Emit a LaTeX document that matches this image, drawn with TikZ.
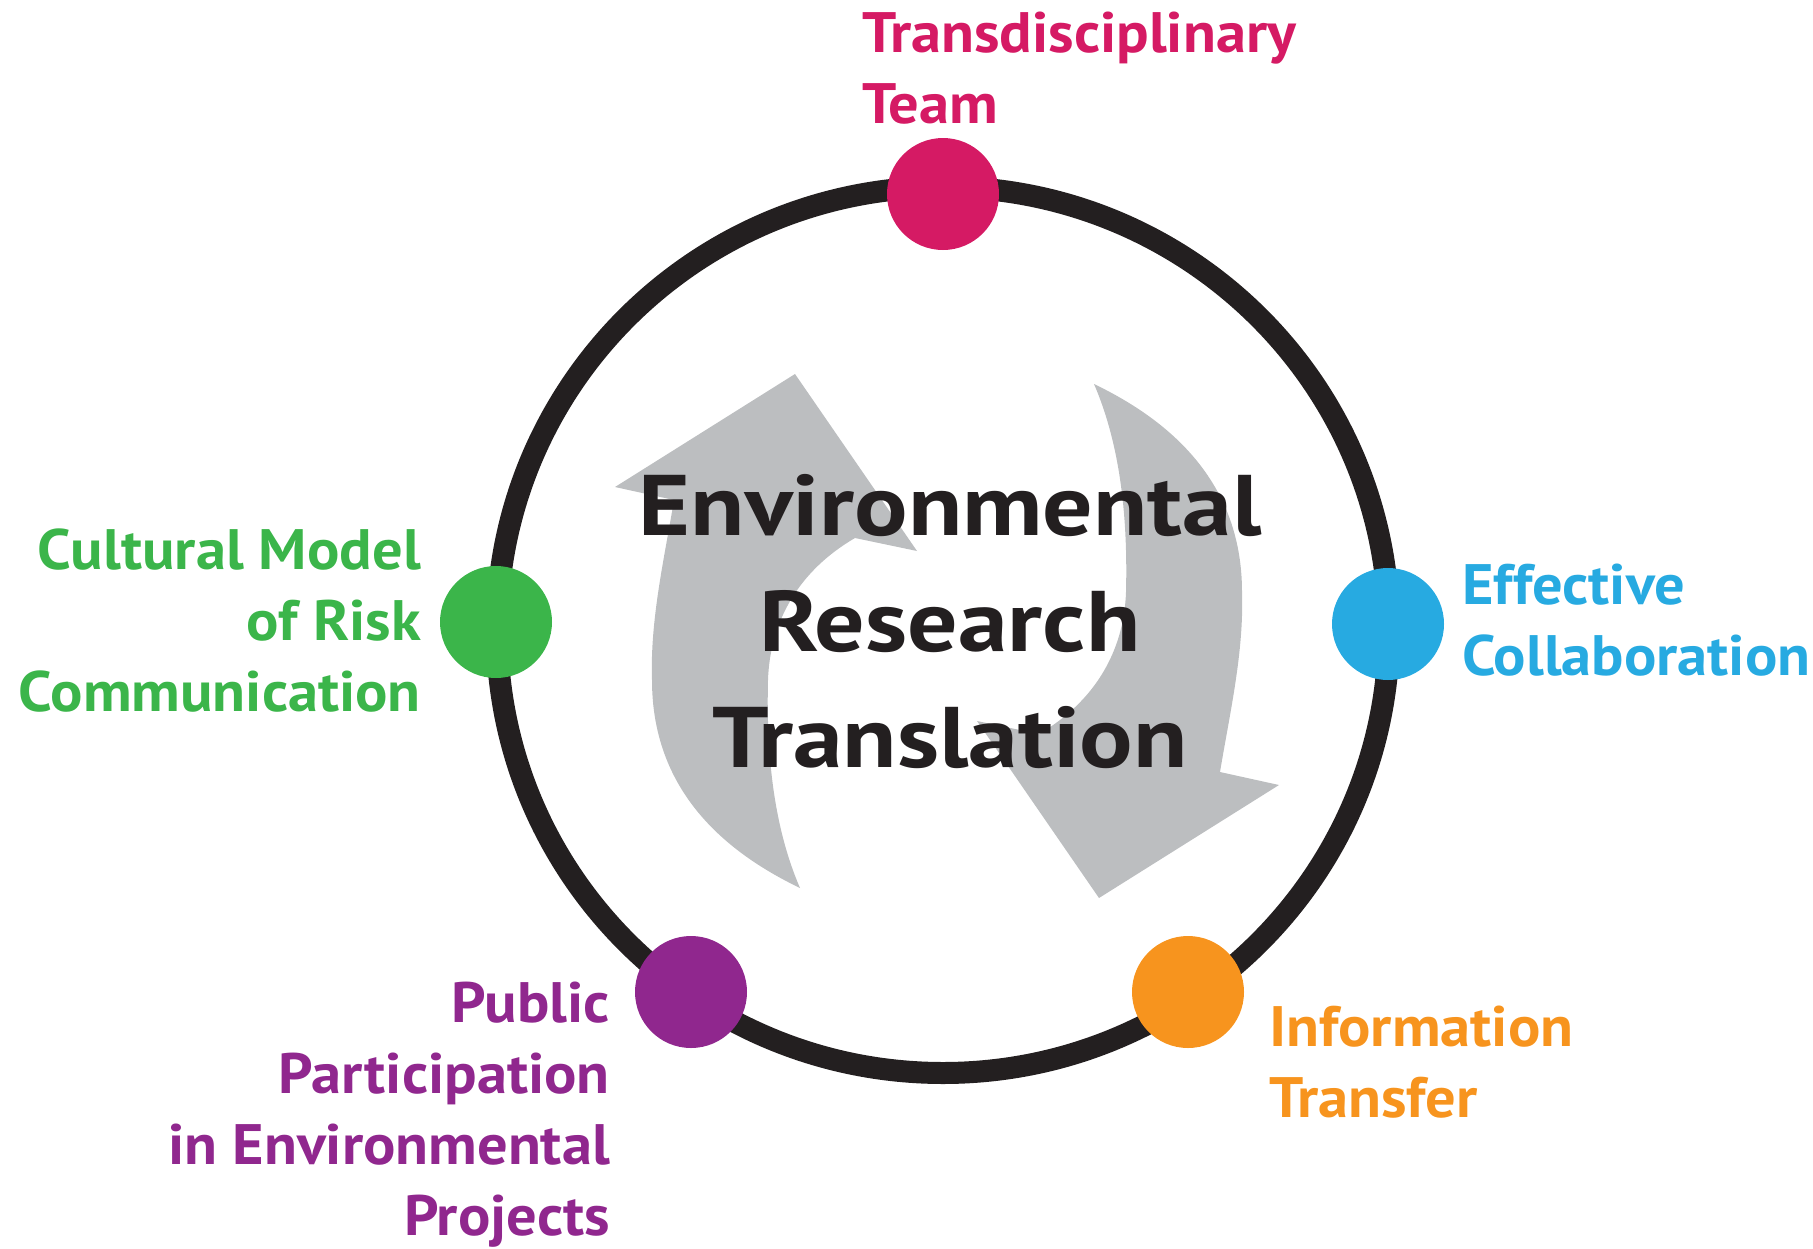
\documentclass[tikz,border=0pt]{standalone}
\usepackage{fontspec}
\setmainfont{PT Sans}
\newfontfamily\labelfont[FakeStretch=1.06]{PT Sans}
\newfontfamily\titlefont[FakeStretch=1.16]{PT Sans}
\definecolor{cmag}{HTML}{D51A64}
\definecolor{cgreen}{HTML}{3BB54A}
\definecolor{cblue}{HTML}{27AAE1}
\definecolor{corange}{HTML}{F7941E}
\definecolor{cpurple}{HTML}{90278E}
\definecolor{cgray}{HTML}{BCBEC0}
\definecolor{cdark}{HTML}{231F20}
\newcommand\grayarrowpath{(795,374) -- (615,487) -- (674,500)
  .. controls (664,560) and (650,620) .. (652,680)
  .. controls (652,770) and (700,840) .. (800,888)
  .. controls (775,830) and (766,760) .. (768,680)
  .. controls (770,620) and (800,570) .. (855,538)
  -- (917,551) -- cycle}
\begin{document}
\begin{tikzpicture}[x=1pt,y=-1pt,
  dot/.style={circle, inner sep=0pt, minimum size=112pt, draw=none},
  lbl/.style={inner sep=0pt, font=\labelfont\fontsize{57}{71}\selectfont\bfseries},
  ringline/.style={draw=cdark, line width=22pt},
  arrowshape/.style={fill=cgray, draw=none},
  title/.style={inner sep=0pt, align=center, text=cdark, font=\titlefont\fontsize{86}{116}\selectfont\bfseries}]
\useasboundingbox (0,0) rectangle (1813,1248);
% grey cycle arrows
\fill[arrowshape] \grayarrowpath;
\begin{scope}[rotate around={180:(947,636)}]
\fill[arrowshape] \grayarrowpath;
\end{scope}
% ring
\draw[ringline] (943,630) ellipse [x radius=446pt, y radius=443pt];
% dots
\node[dot, fill=cmag] (dtop) at (943,194) {};
\node[dot, fill=cgreen] (dleft) at (496,622) {};
\node[dot, fill=cblue] (dright) at (1388,624) {};
\node[dot, fill=cpurple] (dbl) at (691,992) {};
\node[dot, fill=corange] (dbr) at (1188,992) {};
% centre title (base = last line)
\node[title, anchor=base] (ttl) at (950,767) {Environmental\\Research\\Translation};
% labels (base anchor = last line baseline)
\node[lbl, text=cmag, anchor=base west, align=left] (ltop) at (862,123) {Transdisciplinary\\Team};
\node[lbl, text=cblue, anchor=base west, align=left] (lright) at (1462,675) {Effective\\Collaboration};
\node[lbl, text=cgreen, anchor=base east, align=right] (lleft) at (421,711) {Cultural Model\\of Risk\\Communication};
\node[lbl, text=cpurple, anchor=base east, align=right] (lbl) at (610,1235) {Public\\Participation\\in Environmental\\Projects};
\node[lbl, text=corange, anchor=base west, align=left] (lbr) at (1269,1117) {Information\\Transfer};
\end{tikzpicture}
\end{document}
